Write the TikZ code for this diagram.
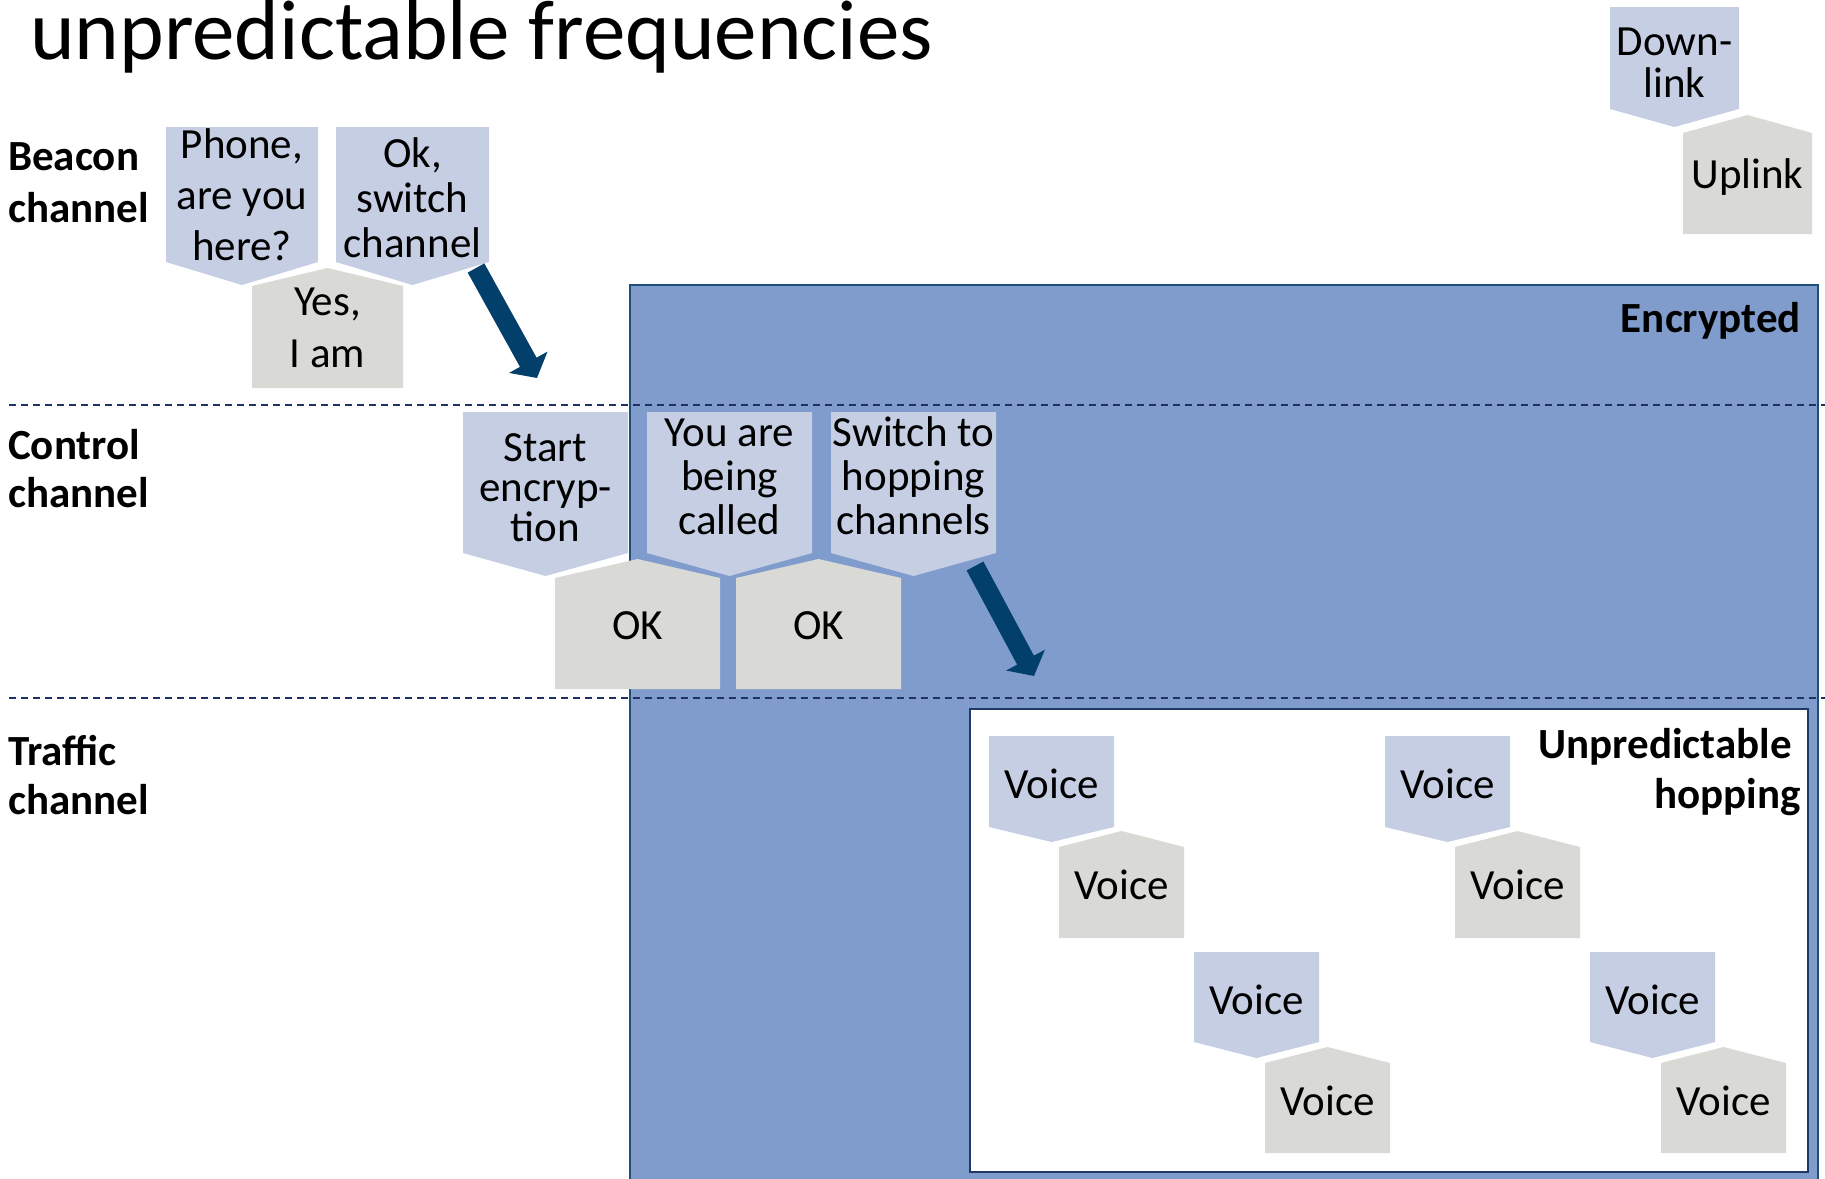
\documentclass[tikz,border=0pt]{standalone}
\usepackage{fontspec}
\setmainfont{Carlito}
\usetikzlibrary{arrows.meta}
\definecolor{encfill}{RGB}{128,156,204}
\definecolor{encdraw}{RGB}{31,78,121}
\definecolor{bluebox}{RGB}{197,206,227}
\definecolor{graybox}{RGB}{217,218,213}
\definecolor{arrowcol}{RGB}{2,64,107}
\definecolor{dashcol}{RGB}{31,50,99}
\definecolor{wbdraw}{RGB}{31,56,100}
% down-pointing pentagon: left x, top y, width, rect height, tip depth
\newcommand\bluepent[5]{\fill[bluebox] (#1,#2) -- ++(#3,0) -- ++(0,#4) -- ++(-#3/2,#5) -- ++(-#3/2,-#5) -- cycle;}
% up-pointing pentagon: left x, peak y, width, rect height, peak height
\newcommand\graypent[5]{\fill[graybox] (#1,#2+#5) -- ++(#3/2,-#5) -- ++(#3/2,#5) -- ++(0,#4) -- ++(-#3,0) -- cycle;}
\newcommand\strt{\rule{0pt}{34pt}}
\begin{document}
\begin{tikzpicture}[x=1pt,y=-1pt,
  txt/.style={inner sep=0pt, align=center, font=\fontsize{43}{50}\selectfont},
  lbl/.style={inner sep=0pt, align=left, font=\fontsize{43}{50}\selectfont\bfseries},
  dashline/.style={draw=dashcol, line width=2pt, dash pattern=on 7pt off 5pt},
  bigarrow/.style={draw=arrowcol, line width=19pt, -{Triangle[length=18pt,width=43pt]}}]
\useasboundingbox (0,0) rectangle (1825,1178);
% encrypted region
\filldraw[fill=encfill, draw=encdraw, line width=2.5pt] (630,285) rectangle (1818,1190);
% channel separators
\coordinate (d1a) at (9,405); \coordinate (d1b) at (1825,405);
\coordinate (d2a) at (9,698); \coordinate (d2b) at (1825,698);
\draw[dashline] (d1a) -- (d1b);
\draw[dashline] (d2a) -- (d2b);
% unpredictable hopping region
\filldraw[fill=white, draw=wbdraw, line width=2.5pt] (970,709) rectangle (1808,1172);
% title
\node[inner sep=0pt, anchor=base west, font=\fontsize{85}{100}\selectfont] (title) at (30,59) {unpredictable frequencies};
% channel labels
\node[lbl, anchor=north west, font=\fontsize{43}{52}\selectfont\bfseries] (beacon) at (8,170-34) {\strt Beacon\\channel};
\node[lbl, anchor=north west, font=\fontsize{43}{48}\selectfont\bfseries] (control) at (8,459-34) {\strt Control\\channel};
\node[lbl, anchor=north west, font=\fontsize{43}{49}\selectfont\bfseries] (traffic) at (8,765-34) {\strt Traffic\\channel};
\node[lbl, anchor=base east] (encrypted) at (1801,332) {Encrypted};
\node[lbl, anchor=north east, align=right] (hopping) at (1801,758-34) {\strt Unpredictable\kern9pt\\hopping};
% legend
\bluepent{1610}{7}{129}{102}{18}
\graypent{1683}{115}{129}{101}{18}
\node[txt, anchor=north, font=\fontsize{43}{42}\selectfont] (down) at (1674.5,55-34) {\strt Down-\\link};
\node[txt, anchor=base] (up) at (1747.5,188) {Uplink};
% beacon channel
\bluepent{166}{127}{152}{135}{23}
\bluepent{336}{127}{153}{135}{23}
\graypent{252}{268}{151}{102}{18}
\node[txt, anchor=north, font=\fontsize{43}{51}\selectfont] (phone) at (242,158-34) {\strt Phone,\\are you\\here?};
\node[txt, anchor=north, font=\fontsize{43}{45}\selectfont] (okswitch) at (412.5,167-34) {\strt Ok,\\switch\\channel};
\node[txt, anchor=north, font=\fontsize{43}{52}\selectfont] (yes) at (327.5,315-34) {\strt Yes,\\I am};
% control channel
\bluepent{463}{412}{165}{141}{23}
\bluepent{647}{412}{165}{141}{23}
\bluepent{831}{412}{165}{141}{23}
\graypent{555}{559}{165}{111}{19}
\graypent{736}{559}{165}{111}{19}
\node[txt, anchor=north, font=\fontsize{43}{40}\selectfont] (start) at (545.5,461-34) {\strt Start\\encryp-\\tion};
\node[txt, anchor=north, font=\fontsize{43}{44}\selectfont] (called) at (729.5,446-34) {\strt You are\\being\\called};
\node[txt, anchor=north, font=\fontsize{43}{44}\selectfont] (switchhop) at (913.5,446-34) {\strt Switch to\\hopping\\channels};
\node[txt, anchor=base] (ok1) at (637.5,639) {OK};
\node[txt, anchor=base] (ok2) at (818.5,639) {OK};
% traffic channel
\bluepent{989}{736}{125}{91}{15}
\graypent{1059}{831}{125}{91}{16}
\bluepent{1385}{736}{125}{91}{15}
\graypent{1455}{831}{125}{91}{16}
\bluepent{1194}{952}{125}{90}{16}
\graypent{1265}{1047}{125}{90}{16}
\bluepent{1590}{952}{125}{90}{16}
\graypent{1661}{1047}{125}{90}{16}
\node[txt, anchor=base] (v1d) at (1051.5,798) {Voice};
\node[txt, anchor=base] (v1u) at (1121.5,899) {Voice};
\node[txt, anchor=base] (v2d) at (1447.5,798) {Voice};
\node[txt, anchor=base] (v2u) at (1517.5,899) {Voice};
\node[txt, anchor=base] (v3d) at (1256.5,1014) {Voice};
\node[txt, anchor=base] (v3u) at (1327.5,1115) {Voice};
\node[txt, anchor=base] (v4d) at (1652.5,1014) {Voice};
\node[txt, anchor=base] (v4u) at (1723.5,1115) {Voice};
% arrows
\coordinate (a1s) at (476,268); \coordinate (a1e) at (537,378);
\coordinate (a2s) at (975,566); \coordinate (a2e) at (1034,676);
\draw[bigarrow] (a1s) -- (a1e);
\draw[bigarrow] (a2s) -- (a2e);
\end{tikzpicture}
\end{document}
